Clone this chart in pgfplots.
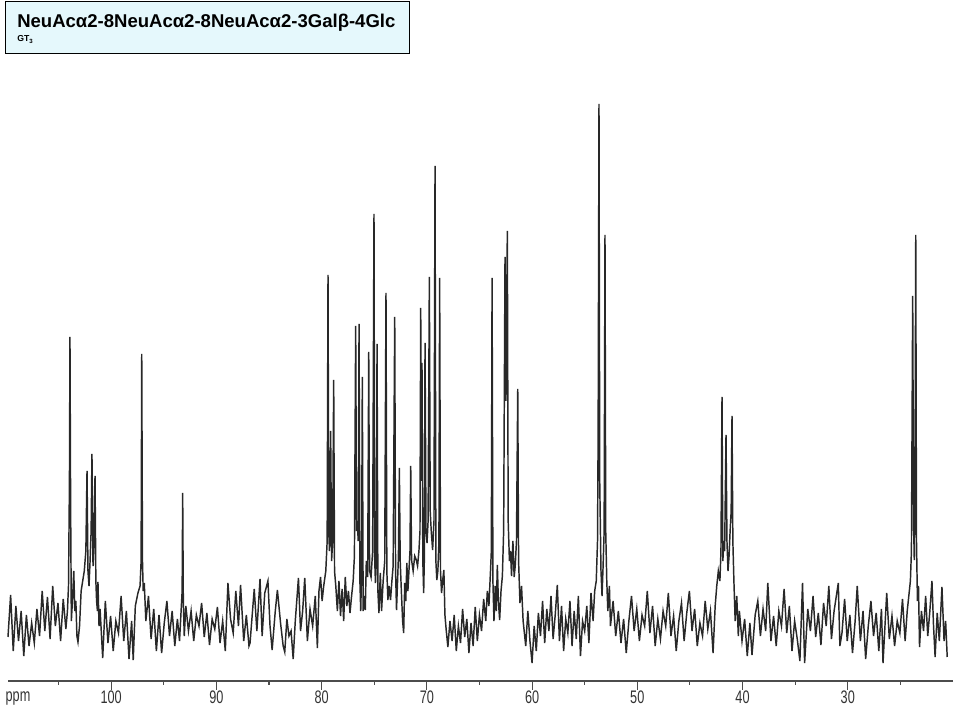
\documentclass[border=0pt]{standalone}
\usepackage{pgfplots}
\pgfplotsset{compat=1.18}
\usepackage{fontspec}
\setmainfont{Liberation Sans}
\newfontfamily\tickfont[FakeStretch=0.7]{Liberation Sans}
\definecolor{boxfill}{RGB}{229,248,252}
\definecolor{specline}{RGB}{40,40,40}

\begin{document}
\begin{tikzpicture}
\path[use as bounding box] (0,0) rectangle (720pt,540pt);

% title box
\draw[line width=0.75pt, fill=boxfill] (3.75pt,499.5pt) rectangle (306.75pt,538.5pt);
\node[anchor=base west, inner sep=0pt, font=\fontsize{13.9}{15}\selectfont\bfseries] at (12.75pt,519.5pt)
  {NeuAcα2-8NeuAcα2-8NeuAcα2-3Galβ-4Glc};
\node[anchor=base west, inner sep=0pt, font=\fontsize{6.5}{7}\selectfont\bfseries] at (12.75pt,508.5pt)
  {GT\textsubscript{3}};

\begin{axis}[
  at={(6pt,29.25pt)}, anchor=south west,
  scale only axis, width=708.75pt, height=435.75pt,
  xmin=20, xmax=109.8, x dir=reverse,
  ymin=0, ymax=581,
  axis y line=none, axis x line*=bottom,
  x axis line style={draw=black!70, line width=0.8pt},
  xtick={30,40,...,100},
  minor xtick={25,35,...,105},
  tick align=outside,
  major tick length=6.5pt, minor tick length=3pt,
  every tick/.style={draw=black!70, line width=0.8pt},
  extra x ticks={108.85}, extra x tick labels={ppm},
  extra x tick style={major tick length=0pt, xticklabel style={yshift=-6.5pt}},
  /pgf/number format/assume math mode=true,
  xticklabel style={font=\tickfont\fontsize{13.6}{15}\selectfont, text=black!80, inner sep=1pt},
  clip=false,
]
\addplot[specline, line width=1.1pt] coordinates {
(109.8,44) (109.55,86) (109.3,30) (109.05,75) (108.8,40) (108.55,70) (108.3,25) (108.05,66)
(107.8,35) (107.55,58) (107.3,38) (107.05,72) (106.8,45) (106.55,90) (106.3,50) (106.05,84)
(105.8,42) (105.55,95) (105.3,55) (105.05,78) (104.8,40) (104.55,82) (104.3,52) (104.15,70)
(104.05,95) (103.96,200) (103.91,344) (103.85,180) (103.78,60) (103.65,85) (103.55,110) (103.45,70)
(103.35,80) (103.25,45) (103.15,39) (103.0,55) (102.85,90) (102.7,100) (102.55,110) (102.4,130)
(102.29,210) (102.2,110) (102.1,95) (102.0,120) (101.9,150) (101.82,227) (101.72,115) (101.62,140)
(101.53,205) (101.45,100) (101.38,80) (101.3,70) (101.25,99) (101.15,55)
(101.05,72) (100.8,23) (100.55,80) (100.3,38) (100.05,65) (99.8,30) (99.55,60) (99.3,48)
(99.05,85) (98.8,40) (98.55,70) (98.3,22) (98.05,60) (97.9,21) (97.7,75) (97.45,88)
(97.25,95) (97.15,120) (97.09,327) (97.02,120) (96.95,90) (96.85,98)
(96.7,60) (96.45,85) (96.2,42) (95.95,72) (95.7,30) (95.45,66) (95.2,28) (94.95,58)
(94.7,80) (94.45,45) (94.2,70) (93.95,35) (93.7,62) (93.5,40) (93.35,70) (93.25,90)
(93.20,188) (93.14,80) (93.05,45)
(92.9,75) (92.65,50) (92.4,70) (92.15,40) (91.9,66) (91.65,55) (91.4,78) (91.15,44)
(90.9,68) (90.65,36) (90.4,62) (90.15,52) (89.9,74) (89.65,38) (89.4,60) (89.15,30)
(88.9,98) (88.65,62) (88.4,48) (88.15,90) (87.9,55) (87.7,96) (87.4,40) (87.15,66)
(86.9,35) (86.8,38) (86.4,92) (86.15,50) (85.85,102) (85.65,45) (85.4,88) (85.1,100)
(84.9,55) (84.7,31) (84.4,70) (84.2,91) (83.9,58) (83.65,35) (83.5,29) (83.3,62)
(83.1,45) (82.9,50) (82.7,22) (82.5,60) (82.2,103) (82.0,50) (81.8,70) (81.6,103)
(81.35,40) (81.1,72) (80.85,55) (80.6,85) (80.4,33) (80.25,90) (80.1,104) (79.95,80)
(79.8,95) (79.6,110) (79.47,140) (79.39,406) (79.32,150) (79.25,130) (79.14,250) (79.05,120)
(78.95,140) (78.85,301) (78.77,110) (78.65,95) (78.5,70) (78.35,100) (78.2,65) (78.05,92)
(77.9,60) (77.75,104) (77.6,75) (77.45,90) (77.3,68) (77.15,85) (77.0,100) (76.88,125)
(76.76,355) (76.68,150) (76.6,160) (76.52,140) (76.44,357) (76.36,100) (76.28,70) (76.2,110)
(76.13,304) (76.05,70) (75.95,85) (75.85,71) (75.75,120) (75.62,104) (75.52,329) (75.44,110)
(75.3,104) (75.15,130) (75.02,467) (74.95,120) (74.88,98) (74.8,120) (74.73,337) (74.65,90)
(74.55,68) (74.42,108) (74.3,70) (74.15,100) (74.0,120) (73.88,388) (73.8,110) (73.7,81)
(73.58,95) (73.45,81) (73.32,100) (73.2,115) (73.05,364) (72.97,110) (72.88,71) (72.78,100)
(72.7,124) (72.61,213) (72.53,120) (72.42,90) (72.3,60) (72.2,48) (72.1,98) (72.0,80)
(71.9,118) (71.8,90) (71.7,110) (71.6,130) (71.53,215) (71.45,121) (71.3,110) (71.15,125)
(71.0,121) (70.88,115) (70.75,130) (70.65,150) (70.58,373) (70.52,200) (70.46,318) (70.38,120)
(70.3,88) (70.24,120) (70.17,338) (70.08,150) (69.98,138) (69.88,160) (69.76,404) (69.68,170)
(69.58,150) (69.45,131) (69.32,160) (69.22,515) (69.14,120) (69.05,101) (68.95,110) (68.85,140)
(68.78,403) (68.7,110) (68.6,88) (68.5,100) (68.38,111) (68.28,66) (68.15,50)
(68.0,34) (67.8,60) (67.6,40) (67.4,66) (67.2,30) (67.0,55) (66.8,38) (66.6,72)
(66.4,44) (66.2,62) (66.0,28) (65.8,58) (65.6,35) (65.4,74) (65.2,40) (65.0,66)
(64.8,50) (64.6,82) (64.4,60) (64.25,90) (64.1,75) (63.95,110) (63.87,130) (63.80,403)
(63.72,100) (63.62,60) (63.5,95) (63.4,70) (63.3,116) (63.2,80) (63.08,61) (62.95,90)
(62.82,105) (62.7,150) (62.57,424) (62.48,280) (62.35,450) (62.27,160) (62.15,120) (62.05,130)
(61.95,105) (61.82,140) (61.7,104) (61.6,115) (61.48,140) (61.36,292) (61.28,120) (61.15,78)
(61.0,95) (60.85,60) (60.6,35) (60.4,70) (60.2,40) (60.0,18) (59.8,55) (59.6,30)
(59.4,68) (59.2,45) (59.0,80) (58.8,38) (58.6,72) (58.4,50) (58.2,85) (58.0,42)
(57.8,66) (57.6,96) (57.4,40) (57.2,75) (57.0,30) (56.8,62) (56.6,48) (56.4,80)
(56.2,35) (56.0,70) (55.8,42) (55.6,85) (55.4,25) (55.2,60) (55.0,50) (54.8,75)
(54.6,38) (54.4,88) (54.2,60) (54.05,90) (53.9,100) (53.78,140) (53.72,250) (53.64,577)
(53.57,200) (53.45,110) (53.35,85) (53.25,115) (53.15,150) (53.07,446) (53.0,150) (52.9,100)
(52.8,70) (52.65,95) (52.55,55) (52.3,80) (52.05,45) (51.8,70) (51.55,38) (51.3,62)
(51.05,28) (50.8,60) (50.55,85) (50.3,50) (50.05,72) (49.8,40) (49.55,66) (49.3,55)
(49.05,90) (48.8,48) (48.55,75) (48.3,35) (48.05,62) (47.8,42) (47.55,70) (47.3,55)
(47.05,88) (46.8,45) (46.55,65) (46.3,30) (46.05,60) (45.8,78) (45.55,40) (45.3,68)
(45.05,90) (44.8,50) (44.55,72) (44.3,35) (44.05,58) (43.8,45) (43.55,80) (43.3,52)
(43.05,70) (42.8,28) (42.6,75) (42.45,95) (42.3,110) (42.15,100) (42.05,130) (41.95,284)
(41.87,120) (41.78,140) (41.7,130) (41.57,246) (41.48,140) (41.38,110) (41.28,125) (41.18,150)
(41.08,170) (41.0,265) (40.92,140) (40.82,100) (40.7,60) (40.55,85) (40.4,45) (40.3,70)
(40.05,40) (39.8,62) (39.55,25) (39.3,58) (39.1,26) (38.8,66) (38.55,80) (38.3,45)
(38.05,72) (37.8,50) (37.6,98) (37.3,40) (37.05,65) (36.8,35) (36.55,70) (36.3,55)
(36.05,92) (35.8,48) (35.55,75) (35.3,30) (35.05,60) (34.8,42) (34.55,20) (34.3,98)
(34.1,18) (33.8,72) (33.55,50) (33.3,85) (33.05,44) (32.8,68) (32.55,36) (32.3,78)
(32.05,55) (31.8,95) (31.55,42) (31.3,70) (30.9,98) (30.75,35) (30.55,48) (30.3,82)
(30.05,40) (29.8,66) (29.55,28) (29.3,60) (29.1,95) (28.8,40) (28.55,70) (28.3,22)
(28.05,55) (27.8,80) (27.55,45) (27.3,68) (27.05,30) (26.8,72) (26.65,18) (26.3,88)
(26.05,42) (25.8,65) (25.55,35) (25.3,60) (25.05,48) (24.8,82) (24.55,40) (24.35,70)
(24.2,85) (24.05,100) (23.95,130) (23.83,385) (23.75,160) (23.68,121) (23.61,200) (23.54,446)
(23.47,140) (23.38,80) (23.28,95) (23.18,34) (23.0,70) (22.8,50) (22.6,85) (22.4,45)
(22.2,70) (22.0,100) (21.85,55) (21.7,24) (21.5,68) (21.3,40) (21.05,94) (20.85,40)
(20.7,60) (20.55,24)
};
\end{axis}
\end{tikzpicture}
\end{document}
